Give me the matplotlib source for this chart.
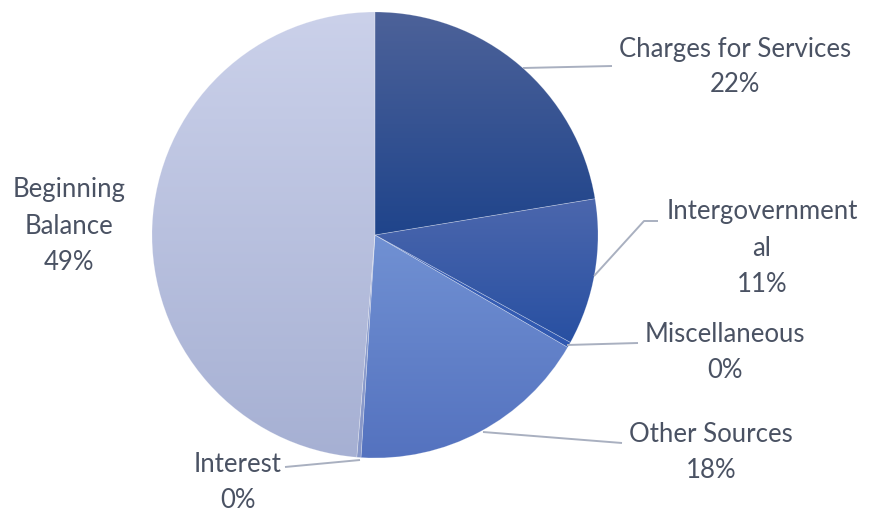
import numpy as np
import matplotlib
matplotlib.use("Agg")
import matplotlib.pyplot as plt
from matplotlib.colors import to_rgb

# Revenue sources (percent of total)
categories = ["Charges for Services", "Intergovernmental", "Miscellaneous",
              "Other Sources", "Interest", "Beginning Balance"]
shares = [22.4, 10.6, 0.4, 17.6, 0.3, 48.7]
label_text = ["Charges for Services", "Intergovernment\nal", "Miscellaneous",
              "Other Sources", "Interest", "Beginning\nBalance"]

# top / bottom colours of each slice's vertical gradient
grad_top = ["#4d6299", "#4c67ad", "#3f63b8", "#7191d3", "#8fa1d2", "#cbd1ea"]
grad_bot = ["#1f448b", "#2850a2", "#2f58b0", "#5472bf", "#8797c8", "#a6b0d3"]

W, H = 871, 515
fig = plt.figure(figsize=(W / 100, H / 100), dpi=100)
ax = fig.add_axes([0, 0, 1, 1])
ax.set_axis_off()

cx, cy, R = 375, H - 235, 223

wedges, _ = ax.pie(shares, startangle=90, counterclock=False, radius=R,
                   center=(cx, cy), colors=grad_bot,
                   wedgeprops=dict(linewidth=0))

for w, c0, c1 in zip(wedges, grad_top, grad_bot):
    ext = w.get_path().get_extents()
    t = np.linspace(0, 1, 256)[:, None]
    a, b = np.array(to_rgb(c1)), np.array(to_rgb(c0))
    img = (a[None, :] * (1 - t) + b[None, :] * t)[:, None, :]
    im = ax.imshow(img, extent=[ext.x0 - 1, ext.x1 + 1, ext.y0 - 1, ext.y1 + 1],
                   origin="lower", aspect="auto", interpolation="bilinear",
                   zorder=2)
    im.set_clip_path(w)

# faint separators between slices
for w in wedges:
    w.set_edgecolor((1, 1, 1, 0.25))
    w.set_linewidth(0.5)
    w.set_facecolor("none")
    w.set_zorder(3)

text_color = "#4a5263"
line_color = "#a9b0c0"
font = dict(family=["Lato", "DejaVu Sans"], fontsize=18.5, color=text_color,
            ha="center", va="center", linespacing=1.55)

# label anchors (centre of text block) and leader lines, in pixel space
label_pos = [(735, 67), (762, 248), (725, 353), (711, 452), (238, 483), (69, 226)]
leaders = [
    [(523, 68), (612, 66)],
    [(594, 276), (644, 221), (658, 221)],
    [(567, 345), (638, 343)],
    [(483, 432), (622, 443)],
    [(285, 467), (360, 460)],
    None,
]

for name, v, (lx, ly), pts in zip(label_text, shares, label_pos, leaders):
    ax.text(lx, H - ly, f"{name}\n{v:.0f}%", zorder=5, **font)
    if pts:
        xs = [p[0] for p in pts]
        ys = [H - p[1] for p in pts]
        ax.plot(xs, ys, color=line_color, lw=1.4, zorder=4,
                solid_capstyle="butt")

ax.set_xlim(0, W)
ax.set_ylim(0, H)
ax.set_aspect("equal")
fig.savefig("out.png", dpi=100, facecolor="white")
